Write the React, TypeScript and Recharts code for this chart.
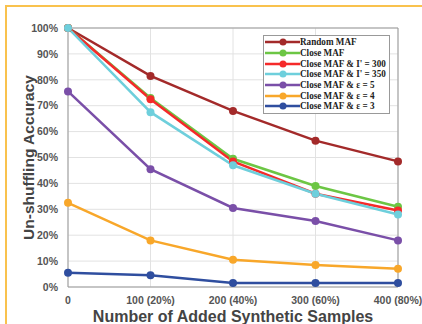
import React from 'react';
import { LineChart, Line, XAxis, YAxis, CartesianGrid, Label, ReferenceLine } from 'recharts';

const samples = [0, 100, 200, 300, 400];
const xTickLabels = ['0', '100 (20%)', '200 (40%)', '300 (60%)', '400 (80%)'];
const yTicks = [0, 10, 20, 30, 40, 50, 60, 70, 80, 90, 100];

const randomMaf = [100, 81.5, 68, 56.5, 48.5];
const closeMaf = [100, 73, 49.5, 39, 31];
const closeI300 = [100, 72.5, 48.5, 36, 29.5];
const closeI350 = [100, 67.5, 47, 36, 28];
const closeEps5 = [75.5, 45.5, 30.5, 25.5, 18];
const closeEps4 = [32.5, 18, 10.5, 8.5, 7];
const closeEps3 = [5.5, 4.5, 1.5, 1.5, 1.5];

const seriesNames = [
  'Random MAF',
  'Close MAF',
  "Close MAF & I' = 300",
  "Close MAF & I' = 350",
  'Close MAF & \u03B5 = 5',
  'Close MAF & \u03B5 = 4',
  'Close MAF & \u03B5 = 3',
];
const seriesValues = [randomMaf, closeMaf, closeI300, closeI350, closeEps5, closeEps4, closeEps3];
const seriesColors = ['#A32A2A', '#6CC644', '#F52A2A', '#6ECFDC', '#7A4FA8', '#F8A72A', '#2F4E9F'];

const data = samples.map((s, i) => {
  const row: Record<string, number> = { x: s };
  seriesNames.forEach((n, k) => {
    row['s' + k] = seriesValues[k][i];
  });
  return row;
});

const LegendBox = () => (
  <div
    style={{
      position: 'absolute',
      left: 263,
      top: 35,
      width: 127,
      height: 79,
      border: '1px solid #999',
      background: '#fff',
      boxSizing: 'border-box',
      paddingTop: 1,
    }}
  >
    {seriesNames.map((n, k) => (
      <div key={n} style={{ display: 'flex', alignItems: 'center', height: 10.7 }}>
        <svg width={36} height={10} style={{ flex: 'none' }}>
          <line x1={1} x2={36} y1={5} y2={5} stroke={seriesColors[k]} strokeWidth={2.5} />
          <circle cx={19} cy={5} r={3.5} fill={seriesColors[k]} />
        </svg>
        <span
          style={{
            fontFamily: '"Liberation Serif", "Times New Roman", serif',
            fontWeight: 'bold',
            fontSize: 10.5,
            color: '#222',
            whiteSpace: 'nowrap',
            lineHeight: '10px',
            display: 'inline-block',
            transform: 'scaleX(0.87)',
            transformOrigin: 'left center',
          }}
        >
          {n}
        </span>
      </div>
    ))}
  </div>
);

export default function App() {
  return (
    <div style={{ position: 'fixed', left: 0, top: 0, width: 422, height: 324, background: '#fff' }}>
      <div
        style={{
          position: 'absolute',
          left: 5,
          top: 5,
          width: 417,
          height: 319,
          borderTop: '2px solid #F9C24E',
          borderLeft: '2px solid #F9C24E',
        }}
      />
      <div style={{ position: 'absolute', left: 0, top: 0 }}>
        <LineChart
          width={422}
          height={324}
          data={data}
          margin={{ top: 28, right: 24, bottom: 0, left: 0 }}
        >
          <CartesianGrid stroke="#E2E2E2" strokeWidth={1} />
          <XAxis
            dataKey="x"
            type="number"
            domain={[0, 400]}
            ticks={samples}
            tickFormatter={(v: number) => xTickLabels[samples.indexOf(v)]}
            height={37}
            stroke="#999"
            tickLine={false}
            tick={{ fill: '#555', fontSize: 10.5, fontWeight: 'bold', fontFamily: 'Arial, "Liberation Sans", sans-serif' }}
            tickMargin={4}
            interval={0}
          >
            <Label
              value="Number of Added Synthetic Samples"
              position="insideBottom"
              offset={2}
              style={{ fill: '#444', fontSize: 16, fontWeight: 'bold', fontFamily: 'Arial, "Liberation Sans", sans-serif' }}
            />
          </XAxis>
          <YAxis
            type="number"
            domain={[0, 100]}
            ticks={yTicks}
            tickFormatter={(v: number) => v + '%'}
            width={68}
            stroke="#999"
            tickLine={false}
            tick={{ fill: '#555', fontSize: 10.5, fontWeight: 'bold', fontFamily: 'Arial, "Liberation Sans", sans-serif' }}
            tickMargin={4}
            interval={0}
          >
            <Label
              value="Un-shuffling Accuracy"
              angle={-90}
              position="insideLeft"
              offset={28}
              style={{ textAnchor: 'middle', fill: '#444', fontSize: 15.5, fontWeight: 'bold', fontFamily: 'Arial, "Liberation Sans", sans-serif' }}
            />
          </YAxis>
          <ReferenceLine y={100} stroke="#999" />
          <ReferenceLine x={400} stroke="#999" />
          {seriesNames.map((n, k) => (
            <Line
              key={n}
              type="linear"
              dataKey={'s' + k}
              name={n}
              stroke={seriesColors[k]}
              strokeWidth={2.5}
              dot={{ r: 4, fill: seriesColors[k], stroke: seriesColors[k], strokeWidth: 0 }}
              activeDot={false}
              isAnimationActive={false}
            />
          ))}
        </LineChart>
      </div>
      <LegendBox />
    </div>
  );
}
